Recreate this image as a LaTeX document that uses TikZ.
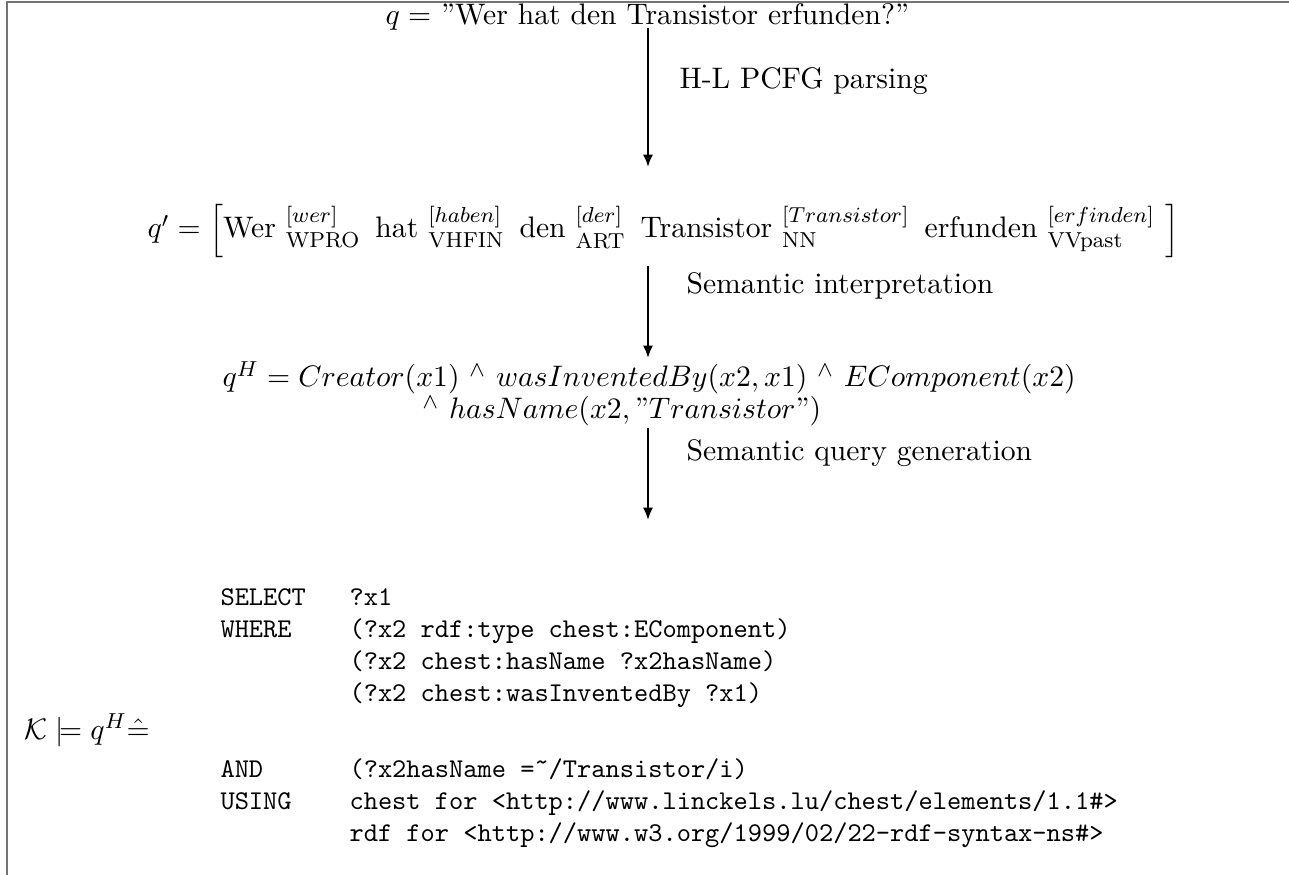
\documentclass[tikz,border=0pt,11pt]{standalone}
\usepackage{amsmath,amssymb}
\usetikzlibrary{arrows.meta}
\begin{document}
\begin{tikzpicture}[x=0.369pt,y=-0.369pt,
  txt/.style={inner sep=0pt,anchor=base west},
  flow/.style={line width=0.8pt,-{Latex[length=4.6pt,width=3.8pt]}},
  frame/.style={draw=black!55,line width=0.8pt}]
\useasboundingbox (0,0) rectangle (1289,875);
\draw[frame] (7,875) -- (7,2) -- (1289,2);
% question
\node[txt] (q) at (385,25) {$q =$ ''Wer hat den Transistor erfunden?''};
% parsed
\node[txt] (qp) at (147,238) {$q' = \left[\text{Wer}\ {}^{[wer]}_{\text{WPRO}}\ \,\text{hat}\ {}^{[haben]}_{\text{VHFIN}}\ \,\text{den}\ {}^{[der]}_{\text{ART}}\ \,\text{Transistor}\ {}^{[Transistor]}_{\text{NN}}\ \,\text{erfunden}\ {}^{[erfinden]}_{\text{VVpast}}\ \right]$};
% semantic
\node[txt] (qh1) at (222,387) {$q^H = Creator(x1)\ {}^{\wedge}\ wasInventedBy(x2,x1)\ {}^{\wedge}\ EComponent(x2)$};
\node[txt] (qh2) at (422,419) {${}^{\wedge}\ hasName(x2,\mbox{''}Transistor\mbox{''})$};
% query
\node[txt] (k) at (24,739) {$\mathcal{K}\models q^H\hat{=}$};
\begin{scope}[every node/.style={txt,font=\small\ttfamily}]
\node (sel) at (220,605) {SELECT};
\node (selv) at (349,605) {?x1};
\node (whr) at (220,637) {WHERE};
\node (w1) at (349,637) {(?x2 rdf:type chest:EComponent)};
\node (w2) at (349,669) {(?x2 chest:hasName ?x2hasName)};
\node (w3) at (349,701) {(?x2 chest:wasInventedBy ?x1)};
\node (and) at (220,777) {AND};
\node (andv) at (349,777) {(?x2hasName =\symbol{"02DC}/Transistor/i)};
\node (usg) at (220,809) {USING};
\node (u1) at (349,809) {chest for <http://www.linckels.lu/chest/elements/1.1\#>};
\node (u2) at (349,841) {rdf for <http://www.w3.org/1999/02/22-rdf-syntax-ns\#>};
\end{scope}
% arrows
\coordinate (a1s) at (648,28);  \coordinate (a1e) at (648,167);
\coordinate (a2s) at (648,266); \coordinate (a2e) at (648,358);
\coordinate (a3s) at (648,428); \coordinate (a3e) at (648,520);
\draw[flow] (a1s) -- (a1e);
\draw[flow] (a2s) -- (a2e);
\draw[flow] (a3s) -- (a3e);
\node[txt] (l1) at (679,89) {H-L PCFG parsing};
\node[txt] (l2) at (686,294) {Semantic interpretation};
\node[txt] (l3) at (686,460) {Semantic query generation};
\end{tikzpicture}
\end{document}
